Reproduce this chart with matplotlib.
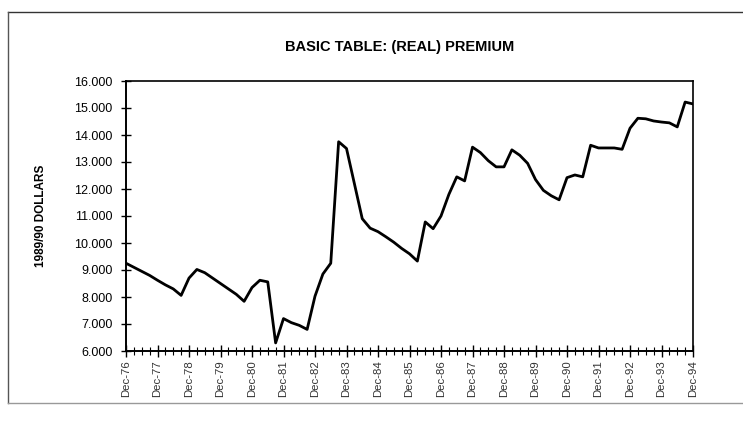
import numpy as np
import matplotlib
matplotlib.use("Agg")
import matplotlib.pyplot as plt
from matplotlib.ticker import FixedLocator, MultipleLocator, FuncFormatter
from matplotlib.lines import Line2D

# Premium in 1989/90 dollars, quarterly from Dec-76 to Dec-94
premium = [
    9250, 9100, 8950, 8800,     # Dec-76 .. Sep-77
    8620, 8450, 8300, 8060,     # Dec-77 .. Sep-78
    8700, 9020, 8900, 8700,     # Dec-78 .. Sep-79
    8500, 8300, 8100, 7840,     # Dec-79 .. Sep-80
    8350, 8620, 8560, 6300,     # Dec-80 .. Sep-81
    7200, 7050, 6950, 6800,     # Dec-81 .. Sep-82
    8030, 8850, 9250, 13750,    # Dec-82 .. Sep-83
    13500, 12200, 10900, 10550, # Dec-83 .. Sep-84
    10420, 10230, 10030, 9800,  # Dec-84 .. Sep-85
    9600, 9330, 10780, 10530,   # Dec-85 .. Sep-86
    11000, 11800, 12450, 12300, # Dec-86 .. Sep-87
    13550, 13350, 13050, 12820, # Dec-87 .. Sep-88
    12820, 13450, 13250, 12950, # Dec-88 .. Sep-89
    12350, 11950, 11750, 11600, # Dec-89 .. Sep-90
    12420, 12520, 12450, 13620, # Dec-90 .. Sep-91
    13520, 13520, 13520, 13470, # Dec-91 .. Sep-92
    14250, 14620, 14600, 14520, # Dec-92 .. Sep-93
    14480, 14450, 14300, 15220, # Dec-93 .. Sep-94
    15150,                      # Dec-94
]
year_labels = ["Dec-76", "Dec-77", "Dec-78", "Dec-79", "Dec-80", "Dec-81",
               "Dec-82", "Dec-83", "Dec-84", "Dec-85", "Dec-86", "Dec-87",
               "Dec-88", "Dec-89", "Dec-90", "Dec-91", "Dec-92", "Dec-93",
               "Dec-94"]
y_ticks = [6000, 7000, 8000, 9000, 10000, 11000, 12000, 13000, 14000, 15000, 16000]

plt.rcParams['font.family'] = ['Liberation Sans', 'DejaVu Sans']

fig = plt.figure(figsize=(7.43, 4.37), dpi=100)
ax = fig.add_axes([126 / 743, 1 - 351 / 437, 567 / 743, 270 / 437])

quarters = np.arange(len(premium))
ax.plot(quarters, premium, color='black', linewidth=2, solid_joinstyle='round')

ax.set_xlim(0, len(premium) - 1)
ax.set_ylim(6000, 16000)

ax.xaxis.set_major_locator(FixedLocator(np.arange(0, len(premium), 4)))
ax.xaxis.set_minor_locator(MultipleLocator(1))
ax.set_xticklabels(year_labels, rotation=90, fontsize=8.2, color='#333333')
ax.set_yticks(y_ticks)
ax.yaxis.set_major_formatter(FuncFormatter(lambda v, p: f"{int(v) // 1000}.{int(v) % 1000:03d}"))
ax.tick_params(axis='y', direction='inout', length=7, width=1, labelsize=9, pad=6)
ax.tick_params(axis='x', which='major', direction='inout', length=8, width=1, pad=3)
ax.tick_params(axis='x', which='minor', direction='inout', length=6, width=0.8)

for side in ['left', 'bottom']:
    ax.spines[side].set_linewidth(1.4)
for side in ['top', 'right']:
    ax.spines[side].set_linestyle((0, (1, 1)))
    ax.spines[side].set_linewidth(1.2)

ax.set_ylabel("1989/90 DOLLARS", fontsize=8.5, fontweight='bold', labelpad=20)
fig.text(400 / 743, 1 - 47 / 437, "BASIC TABLE: (REAL) PREMIUM",
         ha='center', va='center', fontsize=10.5, fontweight='bold')

# outer frame of the scanned page
fig.add_artist(Line2D([8 / 743, 1], [1 - 12 / 437] * 2, color='#333333', lw=1))
fig.add_artist(Line2D([8 / 743] * 2, [1 - 12 / 437, 1 - 403 / 437], color='#555555', lw=1))
fig.add_artist(Line2D([8 / 743, 1], [1 - 403 / 437] * 2, color='#999999', lw=1))

fig.savefig("out.png", dpi=100)
